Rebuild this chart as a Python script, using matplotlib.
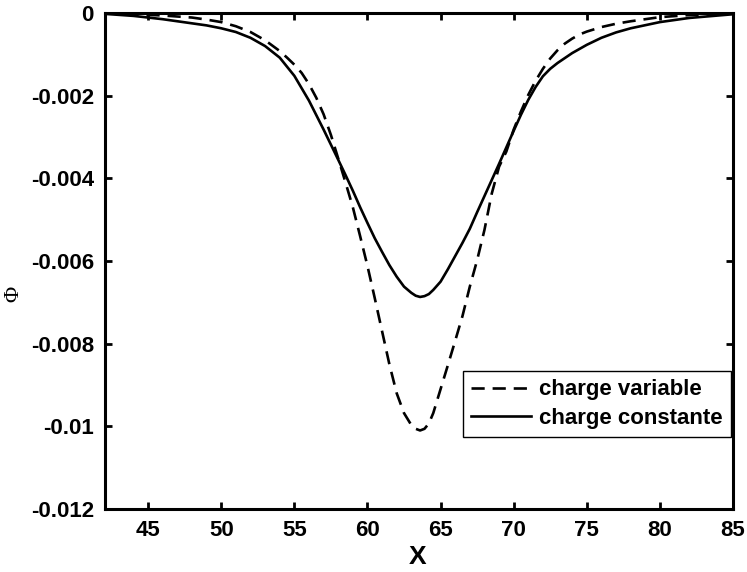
import matplotlib
matplotlib.use("Agg")
import matplotlib.pyplot as plt

# Data
x_const = [42, 44, 46, 47, 48, 49, 50, 51, 52, 53, 54, 55, 56, 57, 58, 58.5, 59, 59.5, 60,
           60.5, 61, 61.5, 62, 62.5, 63, 63.3, 63.6, 63.9, 64.2, 64.5, 65, 65.5, 66, 66.5,
           67, 67.5, 68, 68.5, 69, 69.5, 70, 70.5, 71, 71.5, 72, 72.5, 73, 74, 75, 76, 77,
           78, 80, 82, 85]
phi_const = [-0.00002, -0.00007, -0.00015, -0.00020, -0.00025, -0.00030, -0.00037, -0.00046,
             -0.00060, -0.00080, -0.00108, -0.00152, -0.00212, -0.00282, -0.00355, -0.00392,
             -0.00430, -0.00470, -0.00508, -0.00545, -0.00578, -0.00610, -0.00638, -0.00662,
             -0.00677, -0.00684, -0.00687, -0.00685, -0.00680, -0.00670, -0.00650, -0.00620,
             -0.00588, -0.00556, -0.00522, -0.00482, -0.00443, -0.00404, -0.00365, -0.00325,
             -0.00285, -0.00246, -0.00210, -0.00179, -0.00153, -0.00135, -0.00121, -0.00097,
             -0.00077, -0.00060, -0.00047, -0.00037, -0.00022, -0.00012, -0.00003]

x_var = [42, 44, 46, 48, 49, 50, 51, 52, 53, 54, 54.5, 55, 55.5, 56, 56.5, 57, 57.5, 58,
         58.5, 59, 59.5, 60, 60.5, 61, 61.5, 62, 62.5, 63, 63.3, 63.6, 63.9, 64.2, 64.5,
         65, 65.5, 66, 66.5, 67, 67.5, 68, 68.5, 69, 69.5, 70, 70.5, 71, 71.5, 72, 72.5,
         73, 73.5, 74, 74.5, 75, 76, 77, 78, 80, 82, 85]
phi_var = [-0.00001, -0.00003, -0.00006, -0.00011, -0.00016, -0.00022, -0.00032, -0.00046,
           -0.00066, -0.00092, -0.00108, -0.00125, -0.00145, -0.00172, -0.00205, -0.00245,
           -0.00295, -0.00352, -0.00410, -0.00470, -0.00540, -0.00612, -0.00690, -0.00770,
           -0.00850, -0.00920, -0.00968, -0.00997, -0.01006, -0.01010, -0.01006, -0.00993,
           -0.00968, -0.00910, -0.00852, -0.00793, -0.00733, -0.00662, -0.00598, -0.00525,
           -0.00437, -0.00372, -0.00335, -0.00282, -0.00238, -0.00198, -0.00164, -0.00135,
           -0.00110, -0.00090, -0.00074, -0.00062, -0.00052, -0.00045, -0.00034, -0.00026,
           -0.00020, -0.00010, -0.00005, -0.00001]

x_ticks = [45, 50, 55, 60, 65, 70, 75, 80, 85]
x_ticklabels = ["45", "50", "55", "60", "65", "70", "75", "80", "85"]
y_ticks = [0, -0.002, -0.004, -0.006, -0.008, -0.01, -0.012]
y_ticklabels = ["0", "-0.002", "-0.004", "-0.006", "-0.008", "-0.01", "-0.012"]

label_var = "charge variable"
label_const = "charge constante"

plt.rcParams['font.family'] = ['Liberation Sans', 'DejaVu Sans']

fig = plt.figure(figsize=(7.47, 5.72), dpi=100)
ax = fig.add_axes([105/747, 1 - 509/572, 628/747, 496/572])

ax.plot(x_var, phi_var, color='black', lw=1.9, linestyle=(0, (5, 3)), label=label_var)
ax.plot(x_const, phi_const, color='black', lw=1.9, linestyle='-', label=label_const)

ax.set_xlim(42.05, 85)
ax.set_ylim(-0.012, 0)
ax.set_xticks(x_ticks)
ax.set_xticklabels(x_ticklabels, fontsize=16, fontweight='bold')
ax.set_yticks(y_ticks)
ax.set_yticklabels(y_ticklabels, fontsize=16, fontweight='bold')

for s in ax.spines.values():
    s.set_linewidth(2.2)
ax.tick_params(direction='in', length=5, width=2, top=True, right=True, pad=8)

ax.set_xlabel("X", fontsize=19, fontweight='bold')
ax.xaxis.set_label_coords(0.498, -0.072)
ax.set_ylabel("Φ", fontsize=16, family=['Liberation Serif', 'DejaVu Serif'])
ax.yaxis.set_label_coords(-0.13, 0.433)

leg = ax.legend(loc='lower right', bbox_to_anchor=(0.997, 0.145),
                prop={'weight': 'bold', 'size': 16}, fancybox=False, framealpha=1,
                edgecolor='black', handlelength=2.7, handletextpad=0.4,
                borderpad=0.36, labelspacing=0.35, borderaxespad=0)
leg.get_frame().set_linewidth(1.0)

fig.savefig("out.png", dpi=100)
